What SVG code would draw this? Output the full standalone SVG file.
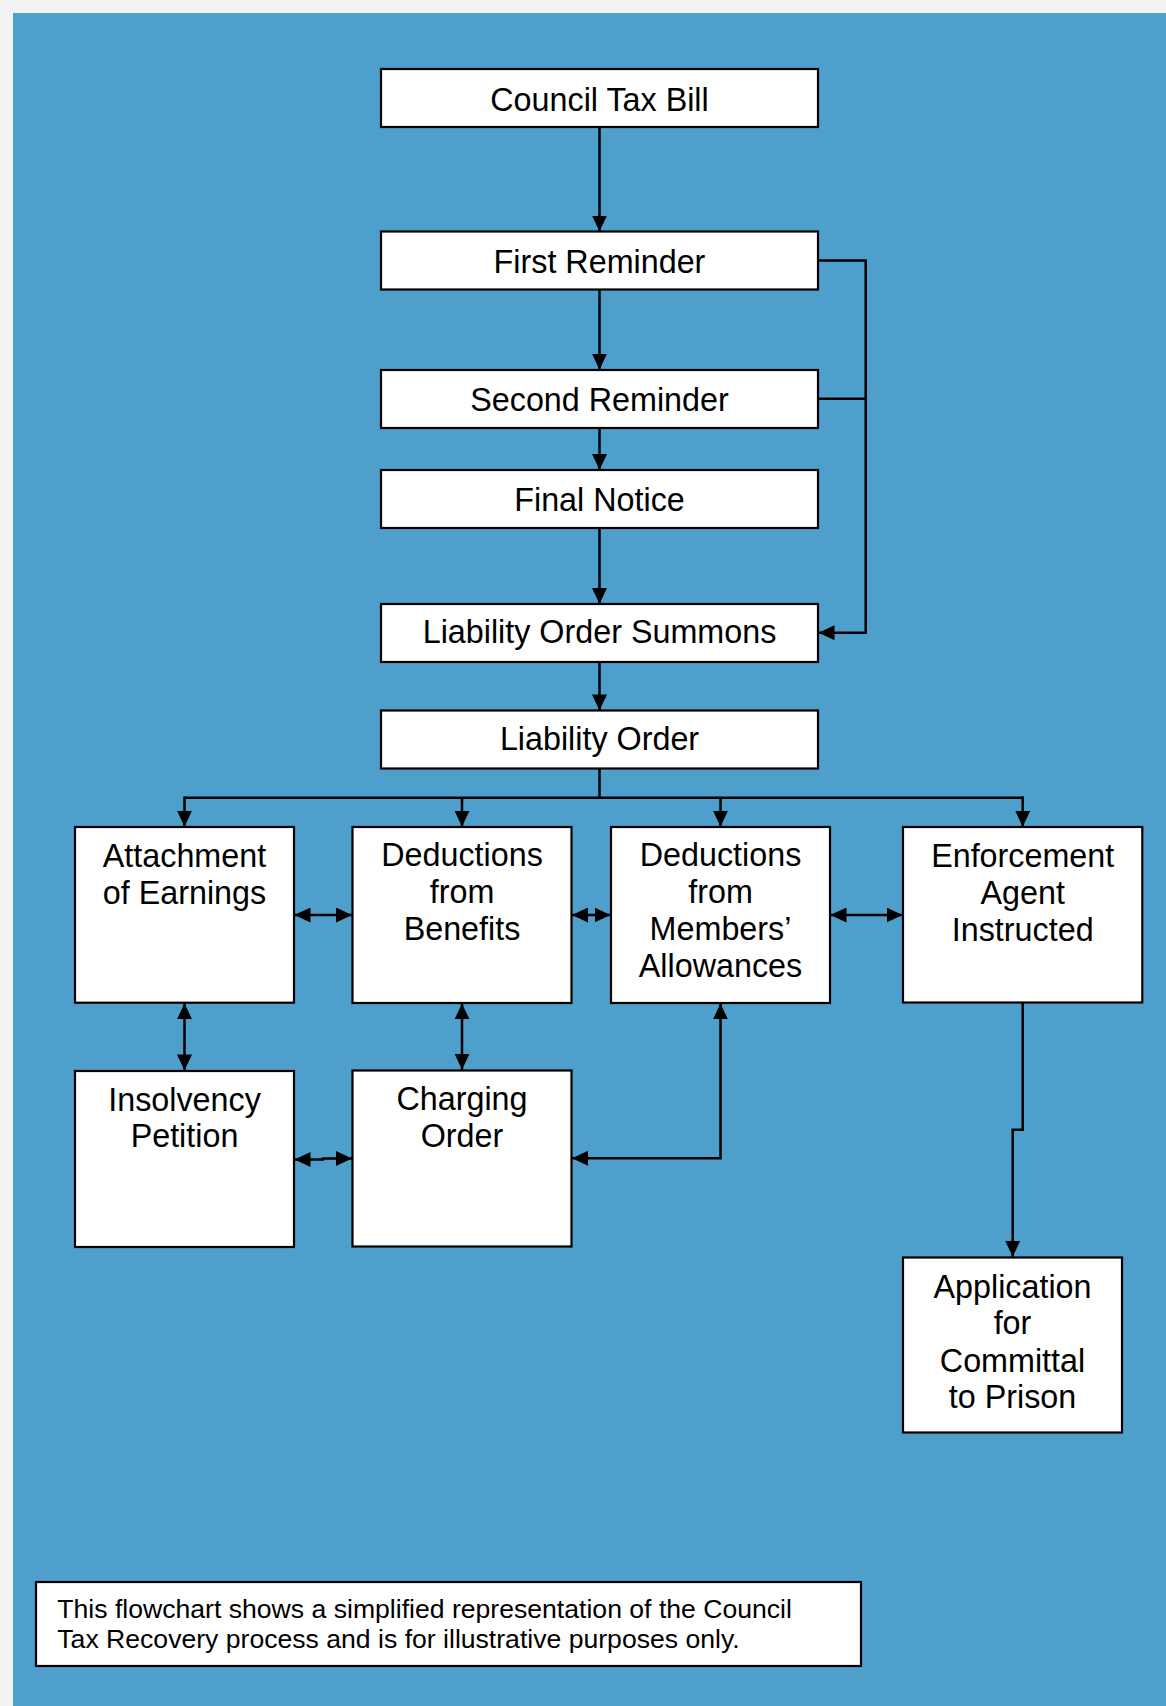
<svg xmlns="http://www.w3.org/2000/svg" width="1166" height="1706" viewBox="0 0 1166 1706">
<defs>
<style>
.box{fill:#ffffff;stroke:#000000;stroke-width:2.2}
.lbl{font-family:"Liberation Sans",Arial,sans-serif;font-size:32.3px;fill:#000000;text-anchor:middle}
.note{font-family:"Liberation Sans",Arial,sans-serif;font-size:26.6px;fill:#000000}
.con{fill:none;stroke:#000000;stroke-width:2.5}
.arr{marker-end:url(#ah)}
.dbl{marker-start:url(#ah);marker-end:url(#ah)}
</style>
<marker id="ah" markerUnits="userSpaceOnUse" viewBox="0 0 16 15" refX="16" refY="7.5" markerWidth="16" markerHeight="15" orient="auto-start-reverse">
<path d="M0,0 L16,7.5 L0,15 z" fill="#000000"/>
</marker>
</defs>
<rect x="0" y="0" width="1166" height="1706" fill="#f2f2f2"/>
<rect x="13" y="13" width="1153" height="1693" fill="#4f9fcc"/>

<g id="connectors">
<path class="con arr" d="M599.5 127 V231.5"/>
<path class="con arr" d="M599.5 289.7 V369.7"/>
<path class="con arr" d="M599.5 428 V470"/>
<path class="con arr" d="M599.5 528 V604"/>
<path class="con arr" d="M818 260.6 H865.7 V632.7 H818.5"/>
<path class="con" d="M818 398.8 H865.7"/>
<path class="con arr" d="M599.5 662 V710.4"/>
<path class="con" d="M599.5 768.6 V797.7"/>
<path class="con" d="M184.5 797.7 H1022.7"/>
<path class="con arr" d="M184.5 796.5 V826.7"/>
<path class="con arr" d="M462 797.7 V826.7"/>
<path class="con arr" d="M720.5 797.7 V826.7"/>
<path class="con arr" d="M1022.7 796.5 V826.7"/>
<path class="con dbl" d="M294.5 915 H352"/>
<path class="con dbl" d="M572 915 H610.5"/>
<path class="con dbl" d="M830.5 915 H902.5"/>
<path class="con dbl" d="M184.5 1003.2 V1070.4"/>
<path class="con dbl" d="M462 1003.4 V1069.8"/>
<path class="con dbl" d="M294.5 1159.5 H323 V1158.5 H352"/>
<path class="con dbl" d="M720.5 1003.4 V1158.3 H572"/>
<path class="con arr" d="M1022.7 1002.5 V1129.7 H1012.7 V1256.8"/>
</g>

<g id="council-tax-bill">
<rect class="box" x="381" y="69" width="437" height="58"/>
<text class="lbl" x="599.5" y="111">Council Tax Bill</text>
</g>
<g id="first-reminder">
<rect class="box" x="381" y="231.5" width="437" height="58"/>
<text class="lbl" x="599.5" y="272.5">First Reminder</text>
</g>
<g id="second-reminder">
<rect class="box" x="381" y="370" width="437" height="58"/>
<text class="lbl" x="599.5" y="410.5">Second Reminder</text>
</g>
<g id="final-notice">
<rect class="box" x="381" y="470" width="437" height="58"/>
<text class="lbl" x="599.5" y="510.5">Final Notice</text>
</g>
<g id="liability-order-summons">
<rect class="box" x="381" y="604" width="437" height="58"/>
<text class="lbl" x="599.5" y="643">Liability Order Summons</text>
</g>
<g id="liability-order">
<rect class="box" x="381" y="710.5" width="437" height="58"/>
<text class="lbl" x="599.5" y="750.2">Liability Order</text>
</g>
<g id="attachment-of-earnings">
<rect class="box" x="75" y="827" width="219" height="175.7"/>
<text class="lbl" x="184.5" y="867">Attachment</text>
<text class="lbl" x="184.5" y="903.5">of Earnings</text>
</g>
<g id="deductions-from-benefits">
<rect class="box" x="352.5" y="827" width="219" height="176"/>
<text class="lbl" x="462" y="866.4">Deductions</text>
<text class="lbl" x="462" y="903">from</text>
<text class="lbl" x="462" y="939.9">Benefits</text>
</g>
<g id="deductions-from-members-allowances">
<rect class="box" x="611" y="827" width="219" height="176"/>
<text class="lbl" x="720.5" y="866">Deductions</text>
<text class="lbl" x="720.5" y="902.5">from</text>
<text class="lbl" x="720.5" y="940">Members’</text>
<text class="lbl" x="720.5" y="977">Allowances</text>
</g>
<g id="enforcement-agent-instructed">
<rect class="box" x="903" y="827" width="239.3" height="175.5"/>
<text class="lbl" x="1022.7" y="867">Enforcement</text>
<text class="lbl" x="1022.7" y="904">Agent</text>
<text class="lbl" x="1022.7" y="940.5">Instructed</text>
</g>
<g id="insolvency-petition">
<rect class="box" x="75" y="1071" width="219" height="176"/>
<text class="lbl" x="184.5" y="1111.3">Insolvency</text>
<text class="lbl" x="184.5" y="1147.3">Petition</text>
</g>
<g id="charging-order">
<rect class="box" x="352.5" y="1070.5" width="219" height="176"/>
<text class="lbl" x="462" y="1110">Charging</text>
<text class="lbl" x="462" y="1147">Order</text>
</g>
<g id="application-for-committal">
<rect class="box" x="903" y="1257.5" width="219" height="175"/>
<text class="lbl" x="1012.5" y="1297.8">Application</text>
<text class="lbl" x="1012.5" y="1334.4">for</text>
<text class="lbl" x="1012.5" y="1371.8">Committal</text>
<text class="lbl" x="1012.5" y="1407.9">to Prison</text>
</g>
<g id="disclaimer">
<rect class="box" x="36" y="1582" width="825" height="84"/>
<text class="note" x="57.3" y="1618.3">This flowchart shows a simplified representation of the Council</text>
<text class="note" x="57.3" y="1648.3">Tax Recovery process and is for illustrative purposes only.</text>
</g>
</svg>
